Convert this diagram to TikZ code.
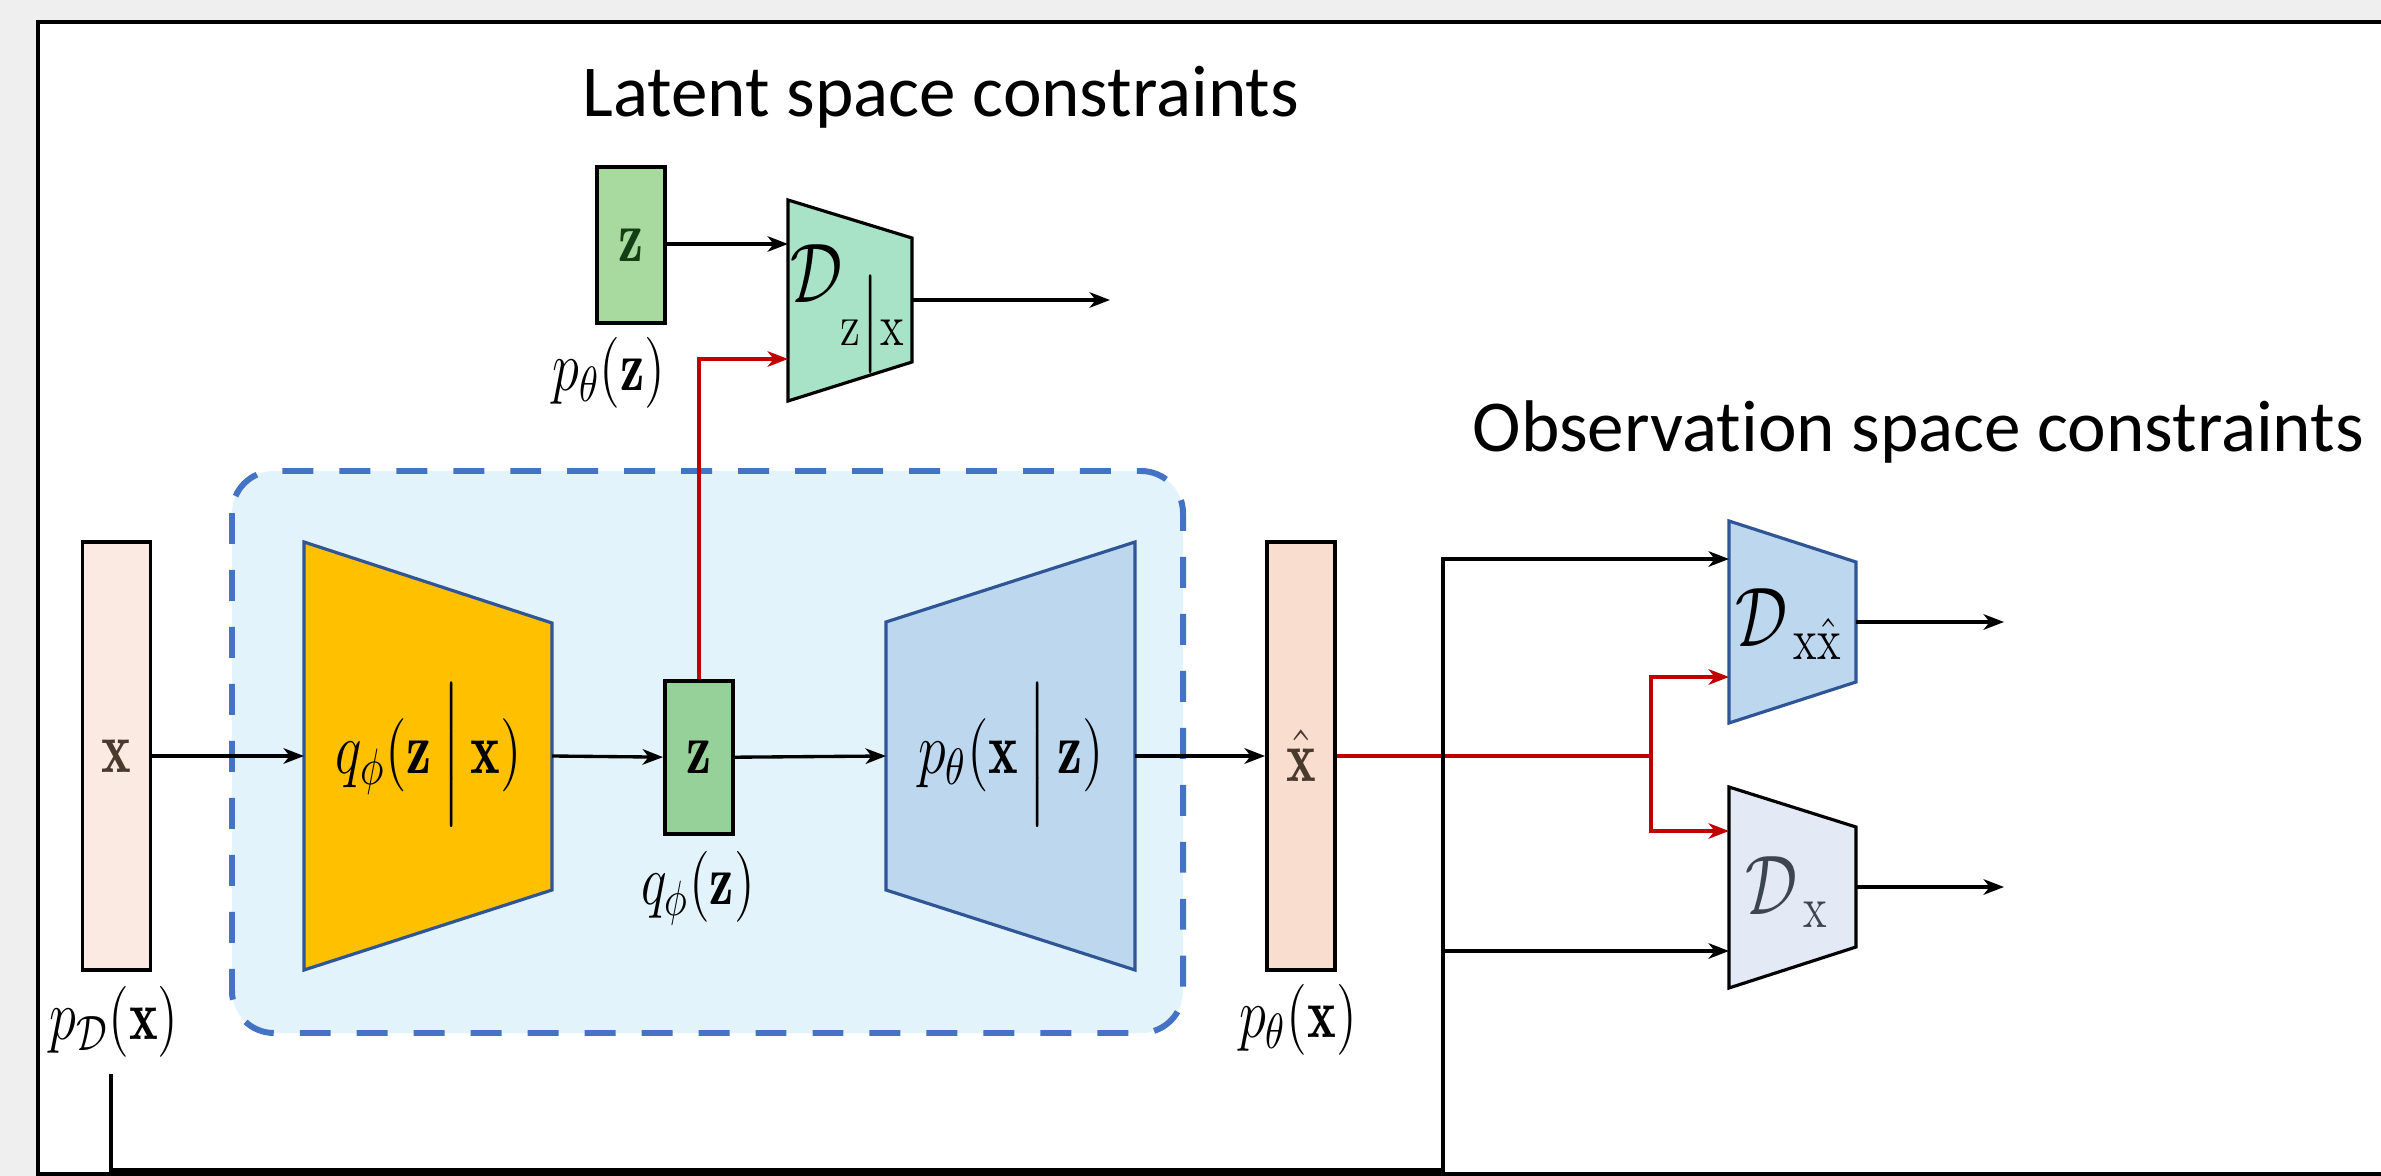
\documentclass[tikz,border=0pt]{standalone}
\usepackage{fix-cm}
\usepackage{amsmath}
\usepackage{graphicx}
\usepackage{fontspec}
\newfontfamily\titlefont[RawFeature={-liga;-clig;-dlig}]{Carlito}
\usetikzlibrary{arrows.meta}

% math labels are set a little taller than wide
\newcommand{\tallm}[1]{\scalebox{1}[1.3]{$#1$}}

\definecolor{vred}{HTML}{C00000}
\definecolor{inbox}{HTML}{FBEAE1}
\definecolor{outbox}{HTML}{F9DED0}
\definecolor{zfill}{HTML}{A8DA9F}
\definecolor{zqfill}{HTML}{97D19A}
\definecolor{critz}{HTML}{A8E3C7}
\definecolor{encfill}{HTML}{FFC000}
\definecolor{decfill}{HTML}{BDD7EE}
\definecolor{edgeblue}{HTML}{2F5597}
\definecolor{dashblue}{HTML}{4472C4}
\definecolor{vaebg}{HTML}{E2F3FB}
\definecolor{dxfill}{HTML}{E3EAF6}
\definecolor{xbrown}{HTML}{4A3A2E}
\definecolor{zgreen}{HTML}{143F14}
\definecolor{dxgrey}{HTML}{3C4550}
\definecolor{bgshade}{HTML}{EFEFEF}

\tikzset{
  conn/.style={line width=0.95pt, -{Stealth[length=5.8pt,width=4.4pt,inset=1.7pt]}},
  redconn/.style={conn, draw=vred, color=vred},
  redline/.style={line width=0.95pt, draw=vred},
  vec/.style={draw, line width=1.1pt, inner sep=0pt, minimum width=0.68cm,
              font=\fontsize{16}{19}\selectfont},
  trap/.style={line width=0.9pt, line join=miter},
  biglbl/.style={inner sep=0pt, font=\fontsize{16}{19}\selectfont},
  smalllbl/.style={inner sep=0pt, font=\fontsize{15.5}{18.6}\selectfont},
  critlbl/.style={inner sep=0pt, font=\fontsize{18.5}{22}\selectfont},
  title/.style={inner sep=0pt, font=\titlefont\fontsize{20.8}{25}\selectfont},
}

\begin{document}
\begin{tikzpicture}[x=0.01cm, y=-0.01cm]
\useasboundingbox (0,0) rectangle (2381,1176);

% page background and frame
\fill[bgshade] (0,0) rectangle (2381,1176);
\fill[white] (38,22) rectangle (2381,1174);
\draw[line width=1pt] (2381,22) -- (38,22) -- (38,1174) -- (2381,1174);

% headings
\node[title, anchor=base west] (lat) at (582,117) {Latent space constraints};
\node[title, anchor=base west] (obs) at (1472,452) {Observat\kern0pt ion space constraints};

% VAE frame
\draw[dashblue, fill=vaebg, line width=1.7pt, dash pattern=on 8.8pt off 7.4pt,
      rounded corners=0.42cm] (232,471) rectangle (1183,1033);

% encoder and decoder
\draw[trap, fill=encfill, draw=edgeblue] (304,542) -- (552,623) -- (552,890) -- (304,970) -- cycle;
\node[biglbl] (enc) at (429,755) {\tallm{q_\phi(\mathbf{z}\,\Big|\,\mathbf{x})}};
\draw[trap, fill=decfill, draw=edgeblue] (886,622) -- (1135,542) -- (1135,970) -- (886,890) -- cycle;
\node[biglbl] (dec) at (1011,755) {\tallm{p_\theta(\mathbf{x}\,\Big|\,\mathbf{z})}};

\coordinate (enc-w) at (304,756);
\coordinate (enc-e) at (552,756);
\coordinate (dec-w) at (886,756);
\coordinate (dec-e) at (1135,756);

% data, latent and reconstruction vectors
\node[vec, fill=inbox, minimum height=4.28cm] (xin) at (116.5,756) {\textcolor{xbrown}{\tallm{\mathbf{x}}}};
\node[vec, fill=zqfill, minimum height=1.53cm] (zq) at (699,757.5) {\tallm{\mathbf{z}}};
\node[vec, fill=outbox, minimum height=4.28cm] (xout) at (1301,756) {\textcolor{xbrown}{\tallm{\hat{\mathbf{x}}}}};
\node[vec, fill=zfill, minimum height=1.56cm] (zp) at (631,245) {\textcolor{zgreen}{\tallm{\mathbf{z}}}};

\node[smalllbl] (pd) at (114,1022) {\tallm{p_{\mathcal{D}}(\mathbf{x})}};
\node[smalllbl] (qz) at (698,888) {\tallm{q_\phi(\mathbf{z})}};
\node[smalllbl] (px) at (1298,1020) {\tallm{p_\theta(\mathbf{x})}};
\node[smalllbl] (pz) at (609,373) {\tallm{p_\theta(\mathbf{z})}};

% latent critic
\draw[trap, fill=critz] (788,200) -- (912,238) -- (912,362) -- (788,401) -- cycle;
\node[critlbl] (dzx) at (848,310) {\tallm{\mathcal{D}_{\mathrm{z}\big|\mathrm{x}}}};
\coordinate (dzx-a) at (788,244);
\coordinate (dzx-b) at (788,359);
\coordinate (dzx-e) at (912,300);
\coordinate (dzx-out) at (1110,300);

% observation critics
\draw[trap, fill=decfill, draw=edgeblue] (1729,521) -- (1856,562) -- (1856,682) -- (1729,723) -- cycle;
\node[critlbl] (dxx) at (1789,624) {\tallm{\mathcal{D}_{\,\mathrm{x}\hat{\mathrm{x}}}}};
\draw[trap, fill=dxfill] (1729,787) -- (1856,827) -- (1856,947) -- (1729,988) -- cycle;
\node[critlbl, text=dxgrey] (dx) at (1787,892) {\tallm{\mathcal{D}_{\,\mathrm{x}}}};

\coordinate (dxx-a) at (1729,559);
\coordinate (dxx-b) at (1729,677);
\coordinate (dxx-e) at (1856,622);
\coordinate (dxx-out) at (2004,622);
\coordinate (dx-a) at (1729,831);
\coordinate (dx-b) at (1729,951);
\coordinate (dx-e) at (1856,887);
\coordinate (dx-out) at (2004,887);

\coordinate (split) at (1651,756);
\coordinate (fb0) at (111,1074);
\coordinate (fbc) at (1443,1170);

% main pipeline
\draw[conn] (xin) -- (enc-w);
\draw[conn] (enc-e) -- (zq);
\draw[conn] (zq) -- (dec-w);
\draw[conn] (dec-e) -- (xout);

% latent space constraint
\draw[conn] (zp.east |- dzx-a) -- (dzx-a);
\draw[redconn] (zq) |- (dzx-b);
\draw[conn] (dzx-e) -- (dzx-out);

% observation space constraints
\draw[redline] (xout) -- (split);
\draw[redconn] (split) |- (dxx-b);
\draw[redconn] (split) |- (dx-a);
\draw[conn] (fb0) |- (fbc) |- (dxx-a);
\draw[conn] (fbc |- dx-b) -- (dx-b);
\draw[conn] (dxx-e) -- (dxx-out);
\draw[conn] (dx-e) -- (dx-out);
\end{tikzpicture}
\end{document}
